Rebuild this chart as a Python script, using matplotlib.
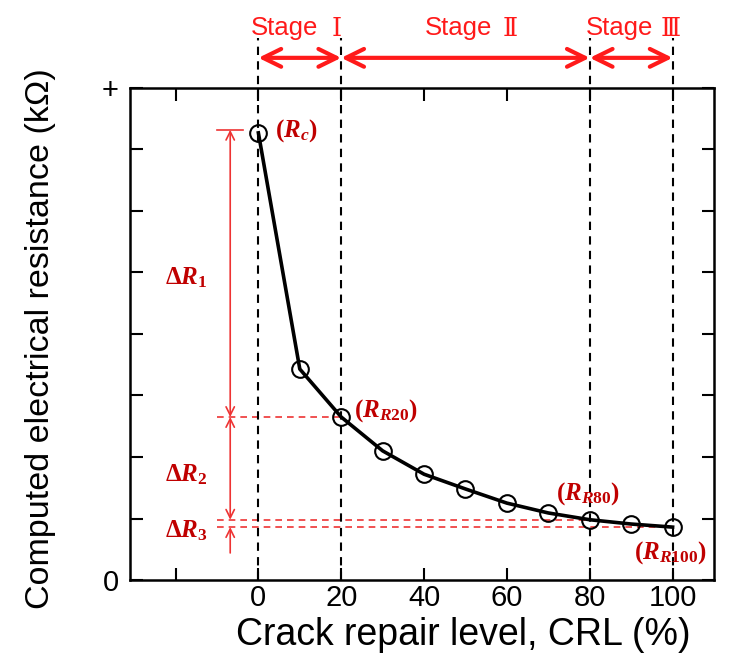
import matplotlib
matplotlib.use('Agg')
import matplotlib.pyplot as plt

plt.rcParams['font.family'] = ['Liberation Sans', 'DejaVu Sans']
plt.rcParams['mathtext.fontset'] = 'custom'
plt.rcParams['mathtext.rm'] = 'Liberation Serif:bold'
plt.rcParams['mathtext.it'] = 'Liberation Serif:italic:bold'
plt.rcParams['mathtext.bf'] = 'Liberation Serif:bold'

# data (y in arbitrary units, 0 .. 8 = "+")
crl = [0, 10, 20, 30, 40, 50, 60, 70, 80, 90, 100]
resistance = [7.27, 3.43, 2.65, 2.10, 1.72, 1.48, 1.25, 1.09, 0.98, 0.91, 0.86]

stage_bounds = [0, 20, 80, 100]
stage_word_x = [6.3, 48.4, 87.1]
stage_nums = ['\u2160', '\u2161', '\u2162']
stage_num_x = [18.8, 60.9, 99.5]

point_labels = ['$(R_c)$', '$(R_{R20})$', '$(R_{R80})$', '$(R_{R100})$']
point_label_xy = [(4.1, 7.3), (23.2, 2.76), (71.9, 1.41), (90.6, 0.44)]

delta_labels = [r'$\Delta R_1$', r'$\Delta R_2$', r'$\Delta R_3$']
delta_label_y = [4.91, 1.71, 0.80]

RED = '#ff1a1a'
DARKRED = '#c00000'
THIN = '#ee3333'

fig = plt.figure(figsize=(7.41, 6.64), dpi=100)
ax = fig.add_axes([0.1754, 0.1265, 0.7882, 0.741])

ax.plot(crl, resistance, color='black', lw=2.6, marker='o', ms=12,
        mfc='none', mec='black', mew=1.5, zorder=5)

ax.set_xlim(-31, 110)
ax.set_ylim(0, 8)

# stage boundaries
for b in stage_bounds:
    ax.plot([b, b], [0, 8.82], ls=(0, (4, 3)), color='black', lw=1.5,
            clip_on=False, zorder=3)

for i in range(3):
    ax.annotate('', xy=(stage_bounds[i], 8.49), xytext=(stage_bounds[i + 1], 8.49),
                xycoords='data', annotation_clip=False,
                arrowprops=dict(arrowstyle='<->,head_length=0.65,head_width=0.32',
                                color=RED, lw=3, shrinkA=0, shrinkB=0,
                                mutation_scale=20))
    ax.text(stage_word_x[i], 8.97, 'Stage', color=RED, fontsize=18.5,
            ha='center', va='center', clip_on=False)
    ax.text(stage_num_x[i], 8.97, stage_nums[i], color=RED, fontsize=18.5,
            ha='center', va='center', clip_on=False,
            family=['DejaVu Serif', 'Noto Sans CJK SC'])

# delta R markers
vx = -6.8
ax.plot([-10, -3.6], [7.32, 7.32], color=THIN, lw=1.2)
ax.annotate('', xy=(vx, 7.32), xytext=(vx, resistance[2]),
            arrowprops=dict(arrowstyle='<->,head_length=0.5,head_width=0.25',
                            color=THIN, lw=1.2, shrinkA=0, shrinkB=0,
                            mutation_scale=12))
ax.annotate('', xy=(vx, resistance[2]), xytext=(vx, resistance[8]),
            arrowprops=dict(arrowstyle='<->,head_length=0.5,head_width=0.25',
                            color=THIN, lw=1.2, shrinkA=0, shrinkB=0,
                            mutation_scale=12))
ax.annotate('', xy=(vx, resistance[10]), xytext=(vx, 0.44),
            arrowprops=dict(arrowstyle='->,head_length=0.5,head_width=0.25',
                            color=THIN, lw=1.2, shrinkA=0, shrinkB=0,
                            mutation_scale=12))

for idx, xe in [(2, 20), (8, 80), (10, 100)]:
    ax.plot([-10, xe], [resistance[idx], resistance[idx]], ls=(0, (4, 3)),
            color=THIN, lw=1.2, zorder=2)

for lab, y in zip(delta_labels, delta_label_y):
    ax.text(-17.5, y, lab, color=DARKRED, fontsize=18, ha='center', va='center')

for lab, (x, y) in zip(point_labels, point_label_xy):
    ax.text(x, y, lab, color=DARKRED, fontsize=18, ha='left', va='center', zorder=6)

# axes styling
ax.set_xticks([-20, 0, 20, 40, 60, 80, 100])
ax.set_xticklabels(['', '0', '20', '40', '60', '80', '100'])
ax.set_yticks(range(9))
ax.set_yticklabels(['0', '', '', '', '', '', '', '', '+'])
ax.tick_params(direction='in', length=9, width=1.5, labelsize=21,
               top=True, right=True, pad=3)
ax.tick_params(axis='y', pad=8)
for s in ax.spines.values():
    s.set_linewidth(1.8)

ax.set_xlabel('Crack repair level, CRL (%)', fontsize=27)
ax.xaxis.set_label_coords(0.57, -0.075, transform=ax.transAxes)
ax.xaxis.label.set_va('top')
ax.set_ylabel('Computed electrical resistance (k\u03a9)', fontsize=24.5)
ax.yaxis.set_label_coords(-0.127, 0.49, transform=ax.transAxes)

fig.savefig('out.png', dpi=100)
